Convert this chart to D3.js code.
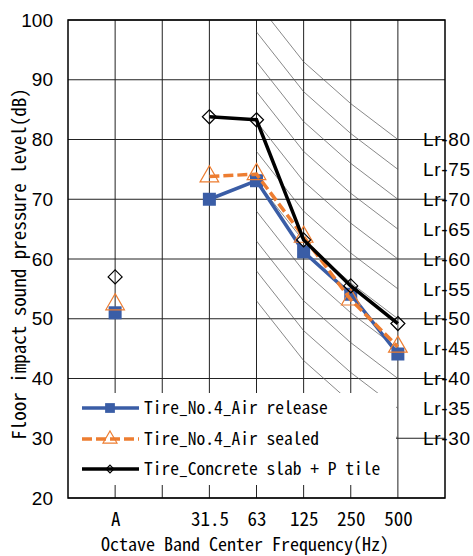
<!DOCTYPE html>
<html>
<head>
<meta charset="utf-8">
<script src="https://cdn.jsdelivr.net/npm/d3@7"></script>
<style>
    body { margin: 0; background: #fff; }
    .mono { font-family: "Noto Sans Mono CJK JP", "DejaVu Sans Mono", monospace; fill: #000; }
    .num { font-family: "Liberation Sans Narrow", "Arial Narrow", "Liberation Sans", sans-serif; fill: #000; }
</style>
</head>
<body>
<div id="chart"></div>
<script>
//x categories (blank slot between A and 31.5)
var categories = ["A", "", "31.5", "63", "125", "250", "500"];
var bands = ["A", "31.5", "63", "125", "250", "500"];

//measured levels in dB
var airRelease = [51, 70, 73.1, 61.2, 54.1, 44.1];
var airSealed = [52.4, 73.8, 74.2, 63.7, 53.2, 45.3];
var concreteTile = [57, 83.8, 83.3, 63.2, 55.5, 49.2];

//Lr reference curves
var lrLevels = [30, 35, 40, 45, 50, 55, 60, 65, 70, 75, 80];
var lrBands = ["63", "125", "250", "500"];
var lrOffsets = [23, 13, 6, 0];

var yTicks = [20, 30, 40, 50, 60, 70, 80, 90, 100];

var seriesNames = ["Tire_No.4_Air release", "Tire_No.4_Air sealed", "Tire_Concrete slab + P tile"];

function init ()
{
    var w = 473;
    var h = 556;
    var left = 68, right = 445, top = 20, bottom = 498;

    var svg = d3.select("#chart")
        .append("svg")
        .attr("width", w)
        .attr("height", h);

    var xScale = d3.scalePoint()
        .domain(categories)
        .range([left, right])
        .padding(1);

    var yScale = d3.scaleLinear()
        .domain([20, 100])
        .range([bottom, top]);

    //grid
    svg.append("g")
        .selectAll("line")
        .data(yTicks)
        .enter()
        .append("line")
        .attr("x1", left)
        .attr("x2", right)
        .attr("y1", function(d) { return yScale(d); })
        .attr("y2", function(d) { return yScale(d); })
        .attr("stroke", "#222")
        .attr("stroke-width", 1);

    svg.append("g")
        .selectAll("line")
        .data(categories)
        .enter()
        .append("line")
        .attr("x1", function(d) { return xScale(d); })
        .attr("x2", function(d) { return xScale(d); })
        .attr("y1", top)
        .attr("y2", bottom)
        .attr("stroke", "#222")
        .attr("stroke-width", 1);

    //hatch of Lr curves, clipped to plot
    svg.append("clipPath")
        .attr("id", "plotClip")
        .append("rect")
        .attr("x", left)
        .attr("y", top)
        .attr("width", right - left)
        .attr("height", bottom - top);

    var lrLine = d3.line()
        .x(function(d) { return xScale(d.band); })
        .y(function(d) { return yScale(d.value); });

    svg.append("g")
        .attr("clip-path", "url(#plotClip)")
        .selectAll("path")
        .data(lrLevels)
        .enter()
        .append("path")
        .attr("d", function(n) {
            return lrLine(lrBands.map(function(b, i) { return { band: b, value: n + lrOffsets[i] }; }));
        })
        .attr("fill", "none")
        .attr("stroke", "#555")
        .attr("stroke-width", 0.7);

    //legend box hides grid underneath
    svg.append("rect")
        .attr("x", left)
        .attr("y", 393)
        .attr("width", 396 - left)
        .attr("height", 92)
        .attr("fill", "#fff");

    //plot border
    svg.append("rect")
        .attr("x", left)
        .attr("y", top)
        .attr("width", right - left)
        .attr("height", bottom - top)
        .attr("fill", "none")
        .attr("stroke", "#000")
        .attr("stroke-width", 1.5);

    //axes
    var yAxis = d3.axisLeft(yScale)
        .tickValues(yTicks)
        .tickSize(0)
        .tickPadding(15);

    var gy = svg.append("g")
        .attr("transform", "translate(" + left + ",0)")
        .call(yAxis);
    gy.select(".domain").remove();
    gy.selectAll("text")
        .attr("class", "num")
        .attr("font-family", null)
        .style("font-size", "19px");

    var xAxis = d3.axisBottom(xScale)
        .tickValues(bands)
        .tickSize(0)
        .tickPadding(15);

    var gx = svg.append("g")
        .attr("transform", "translate(0," + bottom + ")")
        .call(xAxis);
    gx.select(".domain").remove();
    gx.selectAll("text")
        .attr("class", "mono")
        .attr("font-family", null)
        .style("font-size", "19px");

    //Lr labels at right
    svg.append("g")
        .selectAll("text")
        .data(lrLevels)
        .enter()
        .append("text")
        .attr("class", "num")
        .attr("x", 423)
        .attr("y", function(n) { return yScale(n); })
        .attr("dy", "0.35em")
        .attr("textLength", 47)
        .attr("lengthAdjust", "spacing")
        .style("font-size", "19px")
        .text(function(n) { return "Lr-" + n; });

    //axis titles
    svg.append("text")
        .attr("class", "mono")
        .attr("x", 245)
        .attr("y", 545)
        .attr("dy", "0.35em")
        .attr("text-anchor", "middle")
        .style("font-size", "18px")
        .text("Octave Band Center Frequency(Hz)");

    svg.append("text")
        .attr("class", "mono")
        .attr("transform", "translate(19," + 264 + ") rotate(-90)")
        .attr("dy", "0.35em")
        .attr("text-anchor", "middle")
        .style("font-size", "19px")
        .text("Floor impact sound pressure level(dB)");

    //series
    var series = [
        { name: seriesNames[0], values: airRelease, color: "#3A5DA6", dash: null, marker: "square" },
        { name: seriesNames[1], values: airSealed, color: "#ED7D31", dash: "10,4", marker: "triangle" },
        { name: seriesNames[2], values: concreteTile, color: "#000", dash: null, marker: "diamond" }
    ];

    var line = d3.line()
        .x(function(d) { return xScale(d.band); })
        .y(function(d) { return yScale(d.value); });

    function drawMarker(g, s, cx, cy, scale) {
        if (s.marker == "square") {
            var a = 13 * scale;
            g.append("rect")
                .attr("x", cx - a / 2)
                .attr("y", cy - a / 2)
                .attr("width", a)
                .attr("height", a)
                .attr("fill", s.color);
        } else if (s.marker == "triangle") {
            g.append("path")
                .attr("d", d3.symbol().type(d3.symbolTriangle).size(150 * scale * scale)())
                .attr("transform", "translate(" + cx + "," + cy + ")")
                .attr("fill", "none")
                .attr("stroke", s.color)
                .attr("stroke-width", 1.2);
        } else {
            var r = 7 * scale;
            g.append("path")
                .attr("d", "M" + cx + "," + (cy - r) + "L" + (cx + r) + "," + cy + "L" + cx + "," + (cy + r) + "L" + (cx - r) + "," + cy + "Z")
                .attr("fill", "none")
                .attr("stroke", s.color)
                .attr("stroke-width", 1.2);
        }
    }

    series.forEach(function(s) {
        var pts = bands.map(function(b, i) { return { band: b, value: s.values[i] }; });
        //A is not joined to the octave bands
        svg.append("path")
            .datum(pts.slice(1))
            .attr("d", line)
            .attr("fill", "none")
            .attr("stroke", s.color)
            .attr("stroke-width", 3.5)
            .attr("stroke-dasharray", s.dash);

        var g = svg.append("g");
        pts.forEach(function(p) {
            drawMarker(g, s, xScale(p.band), yScale(p.value), 1);
        });
    });

    //legend
    var rows = [408, 439, 469];
    series.forEach(function(s, i) {
        var lg = svg.append("g");
        lg.append("line")
            .attr("x1", 82)
            .attr("x2", 139)
            .attr("y1", rows[i])
            .attr("y2", rows[i])
            .attr("stroke", s.color)
            .attr("stroke-width", 3.5)
            .attr("stroke-dasharray", s.dash);
        drawMarker(lg, s, 110, rows[i], s.marker == "diamond" ? 0.55 : 0.75);
        lg.append("text")
            .attr("class", "mono")
            .attr("x", 144)
            .attr("y", rows[i])
            .attr("dy", "0.35em")
            .style("font-size", "17.5px")
            .text(s.name);
    });
}

window.onload = init;
</script>
</body>
</html>
